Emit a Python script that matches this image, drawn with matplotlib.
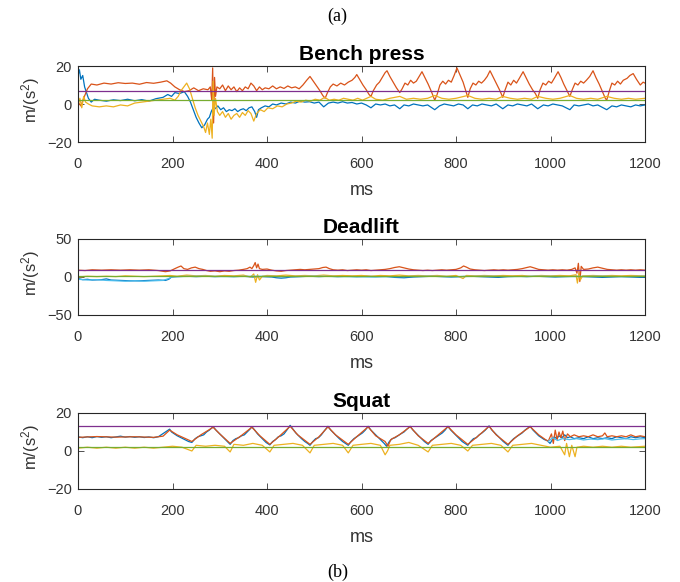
import matplotlib
matplotlib.use('Agg')
import matplotlib.pyplot as plt

plt.rcParams['font.family'] = ['Liberation Sans', 'DejaVu Sans']
plt.rcParams['mathtext.fontset'] = 'custom'
plt.rcParams['mathtext.rm'] = 'Liberation Sans'
plt.rcParams['mathtext.default'] = 'regular'

# MATLAB default line colours
azul = '#0072BD'
laranja = '#D95319'
amarelo = '#EDB120'
roxo = '#7E2F8E'
verde = '#77AC30'
ciano = '#4DBEEE'

# ---- Bench press ----
bench_orange_t = [0, 6, 12, 20, 28, 40, 55, 70, 85, 100, 115, 130, 145, 160, 175, 188, 196, 205, 215, 225,
                  235, 245, 255, 265, 275, 280, 283, 285, 287, 289, 291, 294, 300, 306, 312, 318, 324, 330,
                  336, 342, 348, 354, 360, 366, 372, 378, 384, 390, 396, 404, 412, 420, 428, 436, 444, 452,
                  460, 468, 476, 484, 491, 498, 505, 512, 518, 523, 528, 534, 540, 548, 556, 564, 572, 580,
                  586, 590, 596, 603, 610, 616, 620, 625, 632, 638, 644, 650, 654, 660, 667, 674, 681, 686,
                  692, 698, 704, 710, 716, 722, 728, 734, 741, 748, 755, 760, 766, 772, 778, 784, 790, 796,
                  802, 808, 815, 820, 825, 830, 836, 842, 848, 854, 860, 866, 872, 878, 885, 892, 899, 904,
                  910, 916, 922, 928, 934, 942, 948, 955, 962, 968, 973, 978, 984, 990, 996, 1002, 1008, 1016,
                  1022, 1028, 1035, 1041, 1046, 1052, 1058, 1064, 1070, 1076, 1083, 1090, 1096, 1103, 1110,
                  1116, 1119, 1124, 1130, 1136, 1142, 1148, 1154, 1162, 1168, 1175, 1182, 1190, 1196, 1200]
bench_orange = [1, -1, 3, 8, 10.5, 10, 11, 10.5, 11.2, 10.8, 11, 10.4, 11.3, 10.9, 11.5, 12.2, 11, 9, 7.5, 6.5,
                7, 8.5, 7, 8, 7.5, 9, 2, 19, -10, 14, 4, 9, 8, 10, 7, 9.5, 7.5, 9,
                6.5, 8.5, 7, 9, 8, 11, 9.5, 7, 9, 7.5, 8.5, 8, 9.5, 8, 9, 8.2, 9.5, 8.5,
                9, 8, 10, 12.5, 14.5, 12, 9.5, 7, 4.5, 3, 6, 9, 10.5, 9.5, 11, 10, 11.5, 12.5,
                14, 15.5, 13, 10, 7.5, 5, 4, 7, 10, 11.5, 14, 16.5, 17.5, 14.5, 11.5, 8.5, 6, 8,
                11, 10, 12.5, 11, 12, 14.5, 17, 14, 10.5, 6.5, 2, 5, 10, 12, 10.5, 12.5, 11.5, 15,
                19, 15.5, 11.5, 7.5, 3.5, 8, 11, 10, 12, 11, 12.5, 14.5, 17.5, 14.5, 11, 7.5, 3.5, 7.5,
                11.5, 10, 12.5, 11, 13.5, 17, 14, 10.5, 7.5, 5.5, 3, 7.5, 11, 10, 12, 11, 13.5, 17,
                14, 10.5, 7, 4, 7.5, 11, 10, 12, 11, 12.5, 14.5, 17.5, 14, 10.5, 6.5,
                3, 2, 6.5, 11, 10, 12, 10.5, 12.5, 13.5, 15, 16, 13, 10, 11.5, 11]

bench_blue_t = [0, 3, 6, 10, 14, 18, 22, 28, 35, 45, 60, 75, 90, 105, 120, 135, 150, 165, 180, 190, 198,
                205, 215, 225, 232, 238, 244, 250, 256, 262, 268, 274, 278, 282, 286, 290, 296, 302, 308,
                314, 320, 326, 332, 338, 344, 350, 356, 362, 368, 374, 378, 382, 388, 396, 404, 412, 420,
                430, 440, 450, 460, 470, 480, 490, 500, 510, 520, 530, 540, 550, 560, 570, 580, 590, 600,
                610, 620, 630, 640, 650, 660, 670, 681, 690, 700, 710, 720, 730, 740, 755, 765, 775, 785,
                795, 805, 815, 825, 835, 845, 855, 865, 875, 885, 899, 910, 920, 930, 940, 950, 960, 973,
                985, 995, 1005, 1015, 1025, 1041, 1050, 1060, 1070, 1080, 1090, 1100, 1119, 1130, 1140,
                1150, 1160, 1170, 1180, 1190, 1200]
bench_blue = [15, 18, 13, 15, 9, 6, 3, 1, 2.5, 2, 1.5, 2.2, 1.8, 2.5, 1.7, 2.3, 1.5, 2.8, 3.5, 5, 4,
              6, 5.5, 6.5, 4, 1, -3, -7, -10, -12.5, -11, -8, -7, -4, -2, -2.5, -1, -3, -2,
              -4, -3, -3.5, -2.5, -4, -3, -2.5, -3.5, -2, -1.5, -4, -7, -3, -2, -1, -1.5, 0, -0.5,
              0.5, 0, 1, 0.5, 1.5, 1, 1.2, 0.5, 1, -1.5, 0.5, 1, 0.5, 1.2, 0.5, 0.8, 0, 0.5,
              -0.5, -2, 0, -0.5, 0, -1, -0.5, -2.5, -0.5, -1, 0, -0.5, -1, -0.5, -3, -1, 0, -0.5,
              -1, 0, -0.5, -2.5, -0.5, -1, 0, -0.5, -1, 0, -2.5, -0.5, -1, 0, -0.5, -1, 0, -2.5,
              -0.5, -1, 0, -0.5, -1, -3, -0.5, -1, -0.5, 0, -1, -0.5, -3, -1, -1.5,
              -0.5, -1, -1.5, -0.5, -1, -0.5]

bench_yellow_t = [0, 4, 8, 12, 16, 22, 30, 45, 60, 75, 90, 105, 120, 135, 150, 165, 180, 195, 205, 212,
                  218, 224, 230, 236, 242, 248, 254, 260, 266, 270, 274, 278, 281, 284, 286, 288, 291, 295,
                  300, 306, 312, 318, 324, 330, 336, 342, 348, 354, 360, 366, 372, 378, 386, 394, 402, 412,
                  422, 432, 442, 452, 462, 472, 482, 492, 502, 512, 522, 532, 542, 552, 562, 572, 582, 592,
                  602, 620, 630, 645, 660, 681, 695, 710, 725, 740, 755, 770, 785, 800, 825, 840, 855, 870,
                  885, 899, 915, 930, 945, 960, 973, 990, 1005, 1020, 1041, 1055, 1070, 1085, 1100, 1119,
                  1135, 1150, 1165, 1180, 1200]
bench_yellow = [-1, 3, -2, 4, 1, 0, -1, -1.5, -1, -1.5, -0.5, -1, 0.5, 1, 1.5, 2, 2.5, 3, 2, 4,
                7, 9, 11, 8, 3, -2, -6, -9, -12, -15, -10, -16, -8, -18, 12, -6, 3, -4,
                -6, -4, -7, -5, -8, -6, -5, -7, -4.5, -6, -3.5, -5, -9, -5, -3, -4, -2, -2.5,
                -1, -1.5, 0, 0.5, 1.5, 1, 2, 1.5, 2.5, 2, 3.5, 2, 2.5, 2, 3, 2.5, 2, 3,
                2, 4, 2.5, 2, 3, 4, 2.5, 3, 2.5, 3, 4.5, 3, 2.5, 3, 4.5, 3, 2.5, 3,
                2.5, 4, 3, 2.5, 3, 2.5, 4, 3, 2.5, 3, 4.5, 3, 2.5, 3, 2.5, 4,
                3, 2.5, 3, 2.5, 3]

bench_roxo = 7.0
bench_verde = 2.3

# ---- Deadlift ----
dead_orange_t = [0, 15, 30, 50, 70, 90, 110, 130, 150, 170, 185, 195, 205, 212, 218, 224, 232, 240, 248, 256,
                 264, 272, 280, 290, 300, 310, 320, 330, 340, 350, 358, 364, 368, 372, 375, 378, 381, 384,
                 390, 400, 410, 420, 430, 440, 450, 460, 470, 480, 490, 500, 510, 518, 525, 532, 540, 550,
                 560, 570, 580, 590, 600, 610, 620, 630, 640, 650, 660, 670, 680, 690, 700, 710, 720, 730,
                 740, 750, 760, 770, 780, 790, 800, 810, 816, 822, 830, 840, 850, 860, 870, 880, 890, 900,
                 910, 920, 930, 940, 950, 957, 965, 975, 985, 995, 1005, 1015, 1025, 1035, 1045, 1052,
                 1056, 1059, 1062, 1065, 1070, 1080, 1090, 1100, 1110, 1120, 1130, 1140, 1150, 1160, 1170,
                 1180, 1190, 1200]
dead_orange = [9, 8.5, 9.5, 9, 9.5, 9, 9.5, 9, 9.5, 8.5, 7, 8, 11, 13, 14.5, 11, 10, 12, 13, 11,
               10, 8.5, 7.5, 8, 7, 8, 7.5, 8.5, 9, 10, 11, 13, 11, 15, 19, 12, 17, 11,
               10, 10.5, 9, 8, 7.5, 8.5, 9, 9.5, 10, 9.5, 10, 10.5, 11, 12.5, 13, 11, 9.5, 9,
               9.5, 8.5, 9, 9.5, 9, 9.5, 8.5, 9, 9.5, 10, 11, 12.5, 13.5, 12, 10.5, 9.5, 9, 8.5,
               9, 8.5, 9, 9.5, 9, 9.5, 10, 12, 14.5, 13, 10.5, 9.5, 9, 8.5, 9, 9.5, 9, 9.5,
               9, 9.5, 10, 11, 12.5, 13.5, 12, 10, 9.5, 9, 9.5, 9, 9.5, 9, 10, 12,
               5, 18, -6, 14, 10, 10.5, 12, 13, 11.5, 10, 9.5, 9, 9.5, 9, 9.5,
               9, 9.5, 9]

dead_yellow_t = [0, 20, 40, 60, 80, 100, 120, 140, 160, 180, 195, 210, 230, 250, 270, 290, 310, 330, 350,
                 365, 372, 376, 380, 384, 390, 400, 420, 440, 460, 480, 500, 520, 540, 560, 580, 600, 620,
                 640, 660, 680, 700, 720, 740, 760, 780, 800, 815, 822, 840, 860, 880, 900, 920, 940, 960,
                 980, 1000, 1020, 1040, 1054, 1057, 1060, 1063, 1068, 1090, 1110, 1130, 1150, 1170, 1200]
dead_yellow = [0, 1, 0.5, 1, 0.5, 1.5, 1, 0.5, 1, 1.5, 2, 1, 2.5, 1.5, 2, 1, 2, 1.5, 2.5,
               0, 4, -7, 3, -4, 1, 2, 1.5, 2.5, 1.5, 2, 1.5, 2.5, 1.5, 2, 1.5, 2, 1,
               2, 1.5, 2.5, 1.5, 2, 1.5, 2, 1, 2, -2, 2, 1.5, 2, 1.5, 2, 1.5, 2, 1,
               2, 1.5, 2, 1.5, 3, -8, 5, -4, 1.5, 2, 1.5, 2, 1.5, 2, 1.5]

dead_blue_t = [0, 10, 20, 30, 50, 60, 70, 90, 110, 130, 150, 170, 185, 192, 198, 210, 230, 250, 270, 290,
               310, 330, 350, 370, 390, 410, 420, 430, 440, 450, 470, 490, 510, 530, 550, 570, 590, 610,
               630, 650, 670, 690, 710, 730, 750, 770, 790, 810, 830, 850, 870, 890, 910, 930, 950, 970,
               990, 1010, 1030, 1050, 1070, 1090, 1110, 1130, 1150, 1170, 1190, 1200]
dead_blue = [-2, -3.5, -3, -4, -3.5, -2.5, -4, -4.5, -5, -5, -4.5, -4, -4.5, -3, 0, 0.5, 1, 0.5, 1, 0.5,
             1, 0.5, 1, 0, 0.5, 0, -1, -1.5, -1, 0, 0.5, 1, 0.5, 1, 0.5, 1, 0.5, 1,
             0.5, 1, -0.5, -1, 0, 0.5, 1, 0.5, 0, 0.5, 1, 0.5, 0, -0.5, 0.5, 1, 0.5, 1,
             0.5, 0, 0.5, 1, 0.5, 0, -0.5, 0, 0.5, 0, -0.5, 0]

dead_cyan_t = [0, 20, 40, 60, 80, 100, 120, 140, 160, 180, 192, 200, 260, 320, 380, 440, 500, 560, 620,
               680, 740, 800, 860, 920, 980, 1040, 1100, 1160, 1200]
dead_cyan = [-3, -4, -3.5, -4.5, -5, -5.5, -5, -5.5, -5, -4.5, -2, 0.5, 1, 0.5, 1, 0.5, 1, 0.5, 0,
             0.5, 1, 0.5, 1, 0.5, 1, 0.5, 1, 0.5, 1]

dead_roxo = 9.5
dead_verde = 1.5

# ---- Squat ----
squat_blue_t = [0, 10, 20, 30, 40, 50, 60, 70, 80, 90, 100, 110, 120, 130, 140, 150, 160, 170, 176, 182,
                188, 194, 198, 204, 210, 218, 226, 234, 241, 248, 254, 260, 266, 272, 278, 286, 292, 298,
                304, 310, 316, 322, 328, 334, 340, 346, 352, 358, 364, 368, 374, 380, 386, 392, 398, 406,
                412, 418, 424, 430, 436, 442, 449, 455, 461, 467, 473, 480, 486, 491, 497, 503, 509, 515,
                521, 529, 535, 541, 547, 553, 560, 566, 572, 578, 584, 590, 596, 602, 608, 614, 620, 626,
                632, 638, 644, 648, 653, 659, 665, 671, 677, 683, 690, 696, 703, 709, 715, 721, 727, 733,
                741, 747, 753, 759, 765, 771, 777, 783, 789, 795, 801, 807, 813, 819, 825, 831, 837, 843,
                849, 855, 862, 870, 876, 882, 888, 894, 900, 905, 910, 916, 922, 928, 934, 940, 946, 957,
                963, 969, 975, 981, 987, 993, 999, 1004, 1008, 1013, 1018, 1024, 1030, 1036, 1042, 1050,
                1060, 1070, 1080, 1090, 1100, 1110, 1120, 1130, 1140, 1150, 1160, 1170, 1180, 1190, 1200]
squat_blue = [7.5, 7, 7.5, 7, 7.6, 7.2, 7.5, 7, 7.4, 7.8, 7.3, 7.6, 7.2, 7.5, 7.1, 7.4, 7, 7.5, 8.5, 9.5,
              10.5, 11.5, 10, 9, 8, 7, 6, 5, 4.5, 6.5, 7.5, 8, 8.5, 10, 11, 12.8, 11, 9.5,
              8, 6.5, 5, 3.5, 5.5, 6.5, 7, 8, 8.5, 10, 11.5, 12.8, 11, 9, 7.5, 6, 4.5, 3.2,
              5, 6, 7.5, 8, 9, 11, 13.5, 11.5, 9.5, 8, 6.5, 5, 4, 3, 5, 6.5, 7, 8.5,
              10.5, 13, 11, 9.5, 8, 6.5, 5, 4, 3, 5, 6.5, 7.5, 8.5, 9.5, 11, 13, 11, 9.5,
              8, 6.5, 5, 4, 2.5, 5, 6.5, 7, 8, 9, 10, 11.5, 13, 11, 9.5, 8, 6.5, 5,
              3.5, 5.5, 6.5, 7.5, 8.5, 9.5, 11, 13, 11, 9.5, 8, 6.5, 5, 4, 3, 5, 6.5, 7,
              8.5, 9.5, 11, 13.2, 11, 9.5, 8, 6.5, 5, 4, 3, 5, 6.5, 7.5, 8.5, 9.5, 11, 13,
              11, 9.5, 8, 7, 6, 5.5, 4, 6, 7.5, 6.5, 8, 7, 8.5, 7, 7.5, 6.5,
              7, 6.5, 7.5, 6.5, 7, 6.5, 7, 6.5, 7.5, 7, 6.5, 7.5, 7, 7.5, 7]

squat_orange_t = [0, 40, 80, 120, 160, 180, 194, 210, 241, 260, 286, 300, 322, 345, 368, 385, 406, 425,
                  449, 465, 491, 510, 529, 545, 572, 592, 614, 630, 650, 656, 662, 680, 703, 720, 741, 760,
                  783, 800, 825, 845, 870, 885, 910, 930, 957, 975, 995, 1002, 1006, 1010, 1014, 1018,
                  1022, 1026, 1030, 1036, 1042, 1050, 1060, 1070, 1080, 1090, 1100, 1110, 1115, 1120, 1130,
                  1140, 1150, 1160, 1170, 1180, 1190, 1200]
squat_orange = [7.2, 7.6, 7.3, 7.5, 7.2, 7.8, 11, 8.5, 5, 8.5, 12.5, 9, 4, 8, 12.5, 8, 3.5, 7.5,
                13, 8.5, 3.5, 7.5, 12.7, 8.5, 3.5, 8, 12.7, 8, 5, 2.5, 6, 8.5, 12.8, 8, 4, 8,
                12.8, 8.5, 3.5, 7.5, 13, 8.5, 3.5, 8, 12.8, 8.5, 5, 9, 4, 11, 6, 10,
                7, 10.5, 5.5, 9, 7.5, 8.5, 7.5, 8, 7.5, 8.5, 7.5, 8, 9.5, 7.5, 8,
                7.5, 8, 7.5, 8.5, 7.5, 8, 7.5]

squat_yellow_t = [0, 20, 40, 60, 80, 100, 120, 140, 160, 180, 200, 220, 241, 250, 270, 290, 310, 322, 330,
                  350, 370, 390, 406, 415, 435, 455, 475, 491, 500, 520, 540, 560, 572, 582, 600, 620, 640,
                  650, 655, 660, 680, 700, 720, 741, 750, 770, 790, 810, 825, 835, 855, 875, 895, 910, 920,
                  940, 960, 980, 1000, 1020, 1030, 1034, 1040, 1045, 1052, 1056, 1070, 1090, 1110, 1130,
                  1150, 1170, 1200]
squat_yellow = [1.5, 2, 1.5, 2, 1.5, 2, 1.5, 2, 1.5, 2, 2.5, 2, 0, 3, 2.5, 3, 2.5, -0.5, 3.5,
                3, 4, 3, -0.5, 3, 3.5, 4, 3, -1, 3, 3.5, 4, 3, -1, 3, 3.5, 4, 3,
                -2, 0, 3, 3.5, 4.5, 3, -0.5, 3, 3.5, 4, 3, 0, 3, 3.5, 4, 3, -0.5, 3,
                3.5, 4, 3, 2, 2.5, -2, 4, -3, 3, -3, 2, 2.5, 2, 2.5, 2,
                2.5, 2, 2.5]

squat_cyan_t = [995, 1005, 1015, 1025, 1040, 1055, 1070, 1085, 1100, 1115, 1130, 1145, 1160, 1175, 1190, 1200]
squat_cyan = [5, 7, 5.5, 6.5, 6, 6.5, 5.8, 6.3, 6, 6.5, 5.8, 6.2, 6.5, 6, 6.4, 6.5]

squat_roxo = 13.0
squat_verde = 2.3

paineis = [
    ('Bench press', (-20, 20), [-20, 0, 20],
     [(bench_blue_t, bench_blue, azul), (bench_orange_t, bench_orange, laranja),
      (bench_yellow_t, bench_yellow, amarelo)], bench_roxo, bench_verde),
    ('Deadlift', (-50, 50), [-50, 0, 50],
     [(dead_blue_t, dead_blue, azul), (dead_orange_t, dead_orange, laranja),
      (dead_yellow_t, dead_yellow, amarelo), (dead_cyan_t, dead_cyan, ciano)], dead_roxo, dead_verde),
    ('Squat', (-20, 20), [-20, 0, 20],
     [(squat_blue_t, squat_blue, azul), (squat_orange_t, squat_orange, laranja),
      (squat_yellow_t, squat_yellow, amarelo), (squat_cyan_t, squat_cyan, ciano)], squat_roxo, squat_verde),
]

W, H = 680, 582
fig = plt.figure(figsize=(W / 100, H / 100), dpi=100)

# axes boxes in pixels: top edge of each panel
topos = [66, 239, 413]
esq, larg, alt = 78, 567, 76
cinza = '#333333'

for (titulo, ylim, yticks, series, roxo_val, verde_val), topo in zip(paineis, topos):
    ax = fig.add_axes([esq / W, 1 - (topo + alt) / H, larg / W, alt / H])
    for t, v, cor in series:
        ax.plot(t, v, color=cor, lw=0.9)
    ax.axhline(roxo_val, color=roxo, lw=0.9)
    ax.axhline(verde_val, color=verde, lw=0.9)
    ax.set_xlim(0, 1200)
    ax.set_ylim(*ylim)
    ax.set_xticks(range(0, 1201, 200))
    ax.set_yticks(yticks)
    ax.tick_params(direction='in', top=True, right=True, length=4, width=0.6,
                   colors=cinza, labelsize=10.5)
    ax.tick_params(axis='x', pad=10.5)
    ax.tick_params(axis='y', pad=4.5)
    for s in ax.spines.values():
        s.set_color('#262626')
        s.set_linewidth(0.8)
    ax.set_title(titulo, fontsize=15, fontweight='bold', pad=4.5, color='black')
    ax.set_xlabel('ms', fontsize=13, color=cinza, labelpad=8)
    ax.set_ylabel('m/(s$^2$)', fontsize=12, color=cinza)
    ax.yaxis.set_label_coords(-0.063, 0.55)

fig.text(337 / W, 1 - 16.5 / H, '(a)', family='Liberation Serif', fontsize=13, ha='center', va='center')
fig.text(338 / W, 1 - 572.5 / H, '(b)', family='Liberation Serif', fontsize=13, ha='center', va='center')

fig.savefig('out.png', dpi=100)
